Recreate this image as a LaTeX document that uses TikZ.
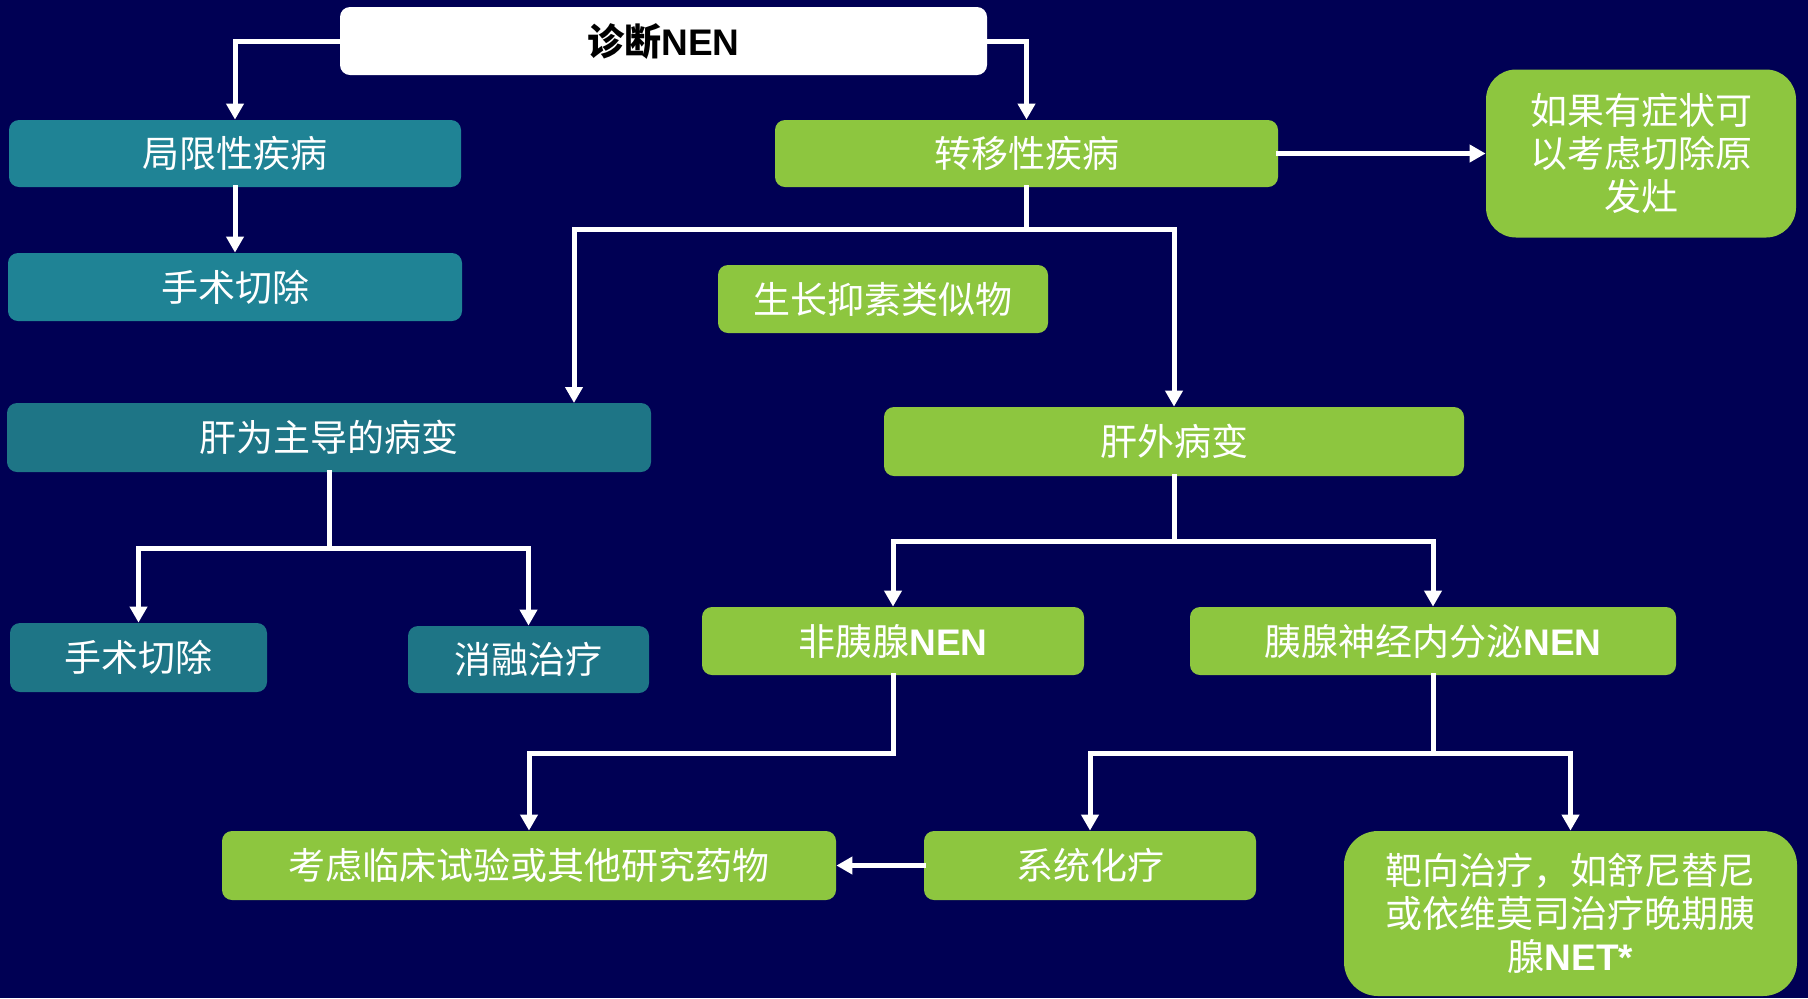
\documentclass[tikz,border=0pt]{standalone}
\usepackage{fontspec}
\setmainfont{Noto Sans CJK SC}
\newfontfamily\lat{Liberation Sans}
\usetikzlibrary{arrows.meta}
\definecolor{bg}{RGB}{0,0,84}
\definecolor{tealA}{RGB}{31,131,149}
\definecolor{tealB}{RGB}{30,117,134}
\definecolor{grn}{RGB}{141,198,63}
\begin{document}
\begin{tikzpicture}[x=0.5pt,y=-0.5pt,
 box/.style={rounded corners=5pt, inner sep=0pt, text=white, font=\fontsize{18.5pt}{21.5pt}\selectfont, align=center},
 arr/.style={draw=white, line width=2.5pt, line cap=rect, line join=miter, -{Triangle[width=8.5pt,length=8pt]}}]
\fill[bg] (0,0) rectangle (1808,998);
\useasboundingbox (0,0) rectangle (1808,998);
% boxes
\node[box, fill=white, text=black, minimum width=323.5pt, minimum height=34pt] (diag) at (663.5,41) {\bfseries 诊断{\lat\bfseries NEN}};
\node[box, fill=tealA, minimum width=226pt, minimum height=33.5pt] (loc) at (235,153.5) {局限性疾病};
\node[box, fill=tealA, minimum width=227pt, minimum height=34pt] (surg1) at (235,287) {手术切除};
\node[box, fill=grn, minimum width=251.5pt, minimum height=33.5pt] (meta) at (1026.5,153.5) {转移性疾病};
\node[box, fill=grn, rounded corners=15pt, minimum width=155pt, minimum height=84pt] (prim) at (1641,153.5) {如果有症状可\\以考虑切除原\\发灶};
\node[box, fill=grn, minimum width=165pt, minimum height=34pt] (ssa) at (883,299) {生长抑素类似物};
\node[box, fill=tealB, minimum width=322pt, minimum height=34.5pt] (liver) at (329,437.5) {肝为主导的病变};
\node[box, fill=tealB, minimum width=128.5pt, minimum height=34.5pt] (surg2) at (138.5,657.5) {手术切除};
\node[box, fill=tealB, minimum width=120.5pt, minimum height=33.5pt] (abl) at (528.5,659.5) {消融治疗};
\node[box, fill=grn, minimum width=290pt, minimum height=34.5pt] (extra) at (1174,441.5) {肝外病变};
\node[box, fill=grn, minimum width=191pt, minimum height=34pt] (nonp) at (893,641) {非胰腺{\lat\bfseries NEN}};
\node[box, fill=grn, minimum width=243pt, minimum height=34pt] (pan) at (1433,641) {胰腺神经内分泌{\lat\bfseries NEN}};
\node[box, fill=grn, minimum width=307pt, minimum height=34.5pt] (trial) at (529,865.5) {考虑临床试验或其他研究药物};
\node[box, fill=grn, minimum width=166pt, minimum height=34.5pt] (chemo) at (1090,865.5) {系统化疗};
\node[box, fill=grn, rounded corners=17pt, minimum width=226.5pt, minimum height=82.5pt] (target) at (1570.5,913.5) {靶向治疗，如舒尼替尼\\或依维莫司治疗晚期胰\\腺{\lat\bfseries NET*}};
% junctions
\coordinate (j1) at (1026.5,229);
\coordinate (liverin) at (574,403);
\coordinate (j2) at (329,548);
\coordinate (j3) at (1174,541);
\coordinate (j4) at (893,753);
\coordinate (j5) at (1433,753);
% connectors
\draw[arr] (diag.west) -| (loc.north);
\draw[arr] (diag.east) -| (meta.north);
\draw[arr] (loc.south) -- (surg1.north);
\draw[arr] (meta.east) -- (prim.west);
\draw[arr] (meta.south) -- (j1) -| (liverin);
\draw[arr] (j1) -| (extra.north);
\draw[arr] (liver.south) -- (j2) -| (surg2.north);
\draw[arr] (j2) -| (abl.north);
\draw[arr] (extra.south) -- (j3) -| (nonp.north);
\draw[arr] (j3) -| (pan.north);
\draw[arr] (nonp.south) -- (j4) -| (trial.north);
\draw[arr] (pan.south) -- (j5) -| (chemo.north);
\draw[arr] (j5) -| (target.north);
\draw[arr] (chemo.west) -- (trial.east);
\end{tikzpicture}
\end{document}
